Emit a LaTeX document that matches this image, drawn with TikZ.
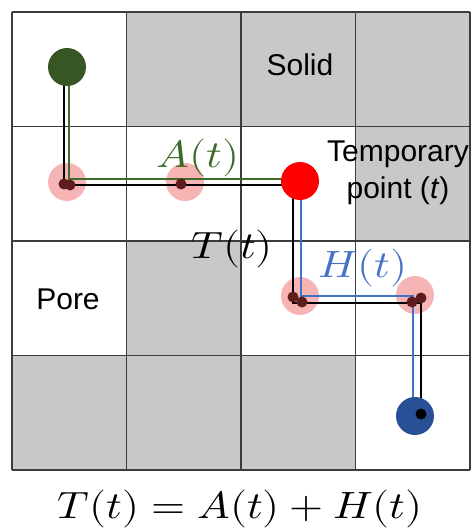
\documentclass[tikz,border=0pt]{standalone}
\usepackage{fontspec}
\usepackage{unicode-math}
\usepackage{graphicx}
\newfontfamily\lblfont{Liberation Sans}
\newcommand{\wmath}[1]{\scalebox{1.15}[1]{$#1$}}

\definecolor{solidgray}{RGB}{200,200,200}
\definecolor{gridgray}{RGB}{60,60,60}
\definecolor{agreen}{RGB}{62,106,44}
\definecolor{dotgreen}{RGB}{55,86,35}
\definecolor{hblue}{RGB}{68,114,196}
\definecolor{dotblue}{RGB}{40,80,150}
\definecolor{halopink}{RGB}{246,180,180}
\definecolor{knotred}{RGB}{95,28,28}

\begin{document}
\begin{tikzpicture}[
  x=1pt, y=-1pt,
  lbl/.style={font=\lblfont\fontsize{30}{37}\selectfont, align=center, inner sep=0pt},
  mth/.style={font=\fontsize{38}{40}\selectfont, inner sep=0pt},
  gridline/.style={draw=gridgray, line width=1.4pt},
  big/.style={circle, minimum size=38pt, inner sep=0pt},
  halo/.style={circle, fill=halopink, minimum size=38pt, inner sep=0pt},
  knot/.style={circle, fill=knotred, minimum size=11pt, inner sep=0pt},
  tpath/.style={draw=black, line width=2pt},
  apath/.style={draw=agreen, line width=2pt},
  hpath/.style={draw=hblue, line width=2pt}
]
\useasboundingbox (0,0) rectangle (473,531);

% solid cells and grid
\foreach \c/\r in {1/0,2/0,3/0,3/1,1/2,0/3,1/3,2/3}
  \fill[solidgray] ({12+114.5*\c},{12+114.5*\r}) rectangle ++(114.5,114.5);
\foreach \i in {0,...,4} {
  \draw[gridline] ({12+114.5*\i},12) -- ++(0,458);
  \draw[gridline] (12,{12+114.5*\i}) -- ++(458,0);
}

% halos
\node[halo] (h1) at (67,182) {};
\node[halo] (h2) at (185,182) {};
\node[halo] (h3) at (300,296) {};
\node[halo] (h4) at (415,295) {};

% corner points
\coordinate (t0) at (64,67);
\coordinate (t1) at (64,185);
\coordinate (t2) at (300,185);
\coordinate (t3) at (293,181);
\coordinate (t4) at (293,303);
\coordinate (t5) at (421,303);
\coordinate (t6) at (421,414);
\coordinate (a0) at (69,67);
\coordinate (a1) at (69,179);
\coordinate (a2) at (300,179);
\coordinate (b0) at (301,181);
\coordinate (b1) at (301,296);
\coordinate (b2) at (413,296);
\coordinate (b3) at (413,416);

\draw[tpath] (t0) -- (t1) -- (t2);
\draw[tpath] (t3) -- (t4) -- (t5) -- (t6);
\draw[apath] (a0) -- (a1) -- (a2);
\draw[hpath] (b0) -- (b1) -- (b2) -- (b3);

% knots
\node[knot] (k1) at (64,184) {};
\node[knot] (k2) at (70,185) {};
\node[knot] (k3) at (181,184) {};
\node[knot] (k4) at (293,297) {};
\node[knot] (k5) at (302,302) {};
\node[knot] (k6) at (412,302) {};
\node[knot] (k7) at (421,298) {};

% points
\node[big, fill=dotgreen] (start) at (67,67) {};
\node[big, fill=red] (temp) at (300,181) {};
\node[big, fill=dotblue] (goal) at (415,416) {};
\node[knot, fill=black] (goalin) at (421,414) {};

% labels
\node[lbl] (solid) at (300,65) {Solid};
\node[lbl] (pore) at (68,299) {Pore};
\node[lbl] (templbl) at (398,173) {Temporary\\point (\textit{t})};
\node[mth, text=agreen] (alabel) at (198,158) {\wmath{A(t)}};
\node[mth] (tlabel) at (232,249) {\wmath{T(t)}};
\node[mth, text=hblue] (hlabel) at (363,268) {\wmath{H(t)}};
\node[mth] (eq) at (240,509) {\wmath{T(t) = A(t) + H(t)}};
\end{tikzpicture}
\end{document}
